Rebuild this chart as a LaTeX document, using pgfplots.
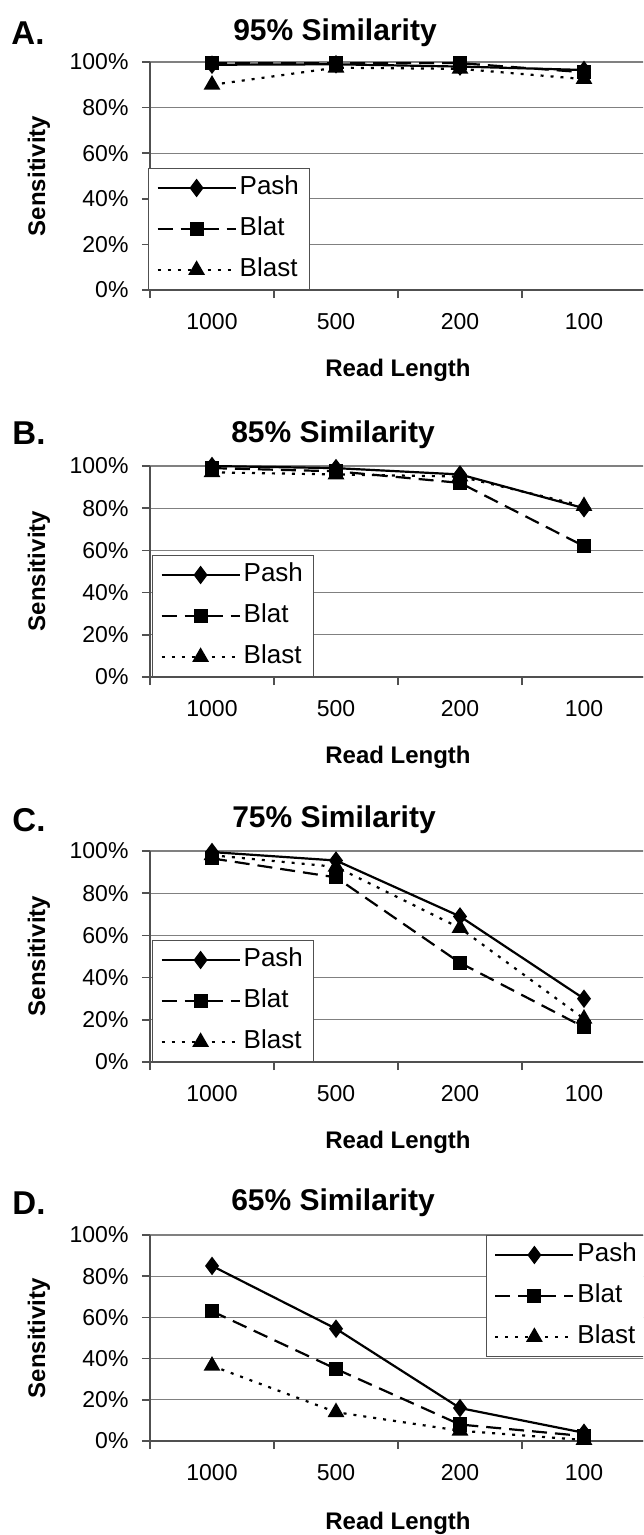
\documentclass[border=0pt]{standalone}
\usepackage{fontspec}
\setmainfont{Liberation Sans}
\usepackage{pgfplots}
\pgfplotsset{compat=1.18}

\definecolor{gridc}{HTML}{808080}
\definecolor{axisc}{HTML}{505050}

\pgfplotsset{
  panel/.style={
    scale only axis, width=496pt,
    xmin=-0.5, xmax=3.5, ymin=0, ymax=100,
    xtick={0,1,2,3}, xticklabels={1000,500,200,100},
    minor xtick={-0.5,0.5,1.5,2.5,3.5},
    ytick={0,20,40,60,80,100},
    yticklabels={0\%,20\%,40\%,60\%,80\%,100\%},
    axis x line*=bottom, axis y line*=left,
    tick align=outside,
    major tick length=8pt, minor tick length=8pt,
    major x tick style={draw=none},
    tick style={axisc, line width=1.5pt},
    axis line style={axisc, line width=1.5pt},
    ymajorgrids, grid style={gridc, line width=1.2pt},
    ticklabel style={font=\fontsize{23}{27}\selectfont},
    xticklabel style={yshift=-12pt},
    yticklabel style={xshift=-10pt},
    clip=false,
    legend cell align=left,
    legend style={draw=axisc, line width=1pt, fill=white,
      font=\fontsize{26}{30}\selectfont, inner sep=8pt, row sep=18pt,
      nodes={inner xsep=3pt, inner ysep=0pt, text height=18pt, text depth=5pt}},
    legend image code/.code={
      \draw[mark repeat=2,mark phase=2,#1] plot coordinates {(0pt,0pt) (39pt,0pt) (78pt,0pt)};},
  },
  pash/.style={black, line width=2.2pt, solid, mark=diamond*, mark size=7.5pt, mark options={solid}},
  blat/.style={black, line width=2.2pt, dash pattern=on 15pt off 8pt, mark=square*, mark size=6pt, mark options={solid}},
  blast/.style={black, line width=2.2pt, dash pattern=on 3pt off 7pt, mark=triangle*, mark size=7.5pt, mark options={solid}},
}

\newcommand\ptitle{\fontsize{30}{34}\selectfont\bfseries}
\newcommand\plabel{\fontsize{33}{37}\selectfont\bfseries}
\newcommand\alabel{\fontsize{24}{28}\selectfont\bfseries}

\begin{document}
\begin{tikzpicture}
\path[use as bounding box, clip] (0pt,0pt) rectangle (643pt,-1535pt);

% A. 95% similarity
\begin{axis}[panel, height=228pt, at={(150pt,-290pt)}, anchor=south west,
  legend style={at={(rel axis cs:0,0)}, anchor=south west, xshift=-2pt}]
\addplot[pash]  coordinates {(0,98.8) (1,99) (2,98) (3,96.5)};
\addplot[blat]  coordinates {(0,99.5) (1,99.5) (2,99.5) (3,95.5)};
\addplot[blast] coordinates {(0,90) (1,97.5) (2,97) (3,92.5)};
\legend{Pash,Blat,Blast}
\end{axis}
\node[font=\plabel] at (28pt,-33pt) {A.};
\node[font=\ptitle] at (335pt,-33pt) {95\% Similarity};
\node[font=\alabel, rotate=90] at (39pt,-176pt) {Sensitivity};
\node[font=\alabel] at (398pt,-370pt) {Read Length};

% B. 85% similarity
\begin{axis}[panel, height=211pt, at={(150pt,-677pt)}, anchor=south west,
  legend style={at={(rel axis cs:0,0)}, anchor=south west, xshift=2pt}]
\addplot[pash]  coordinates {(0,100) (1,99) (2,96) (3,80)};
\addplot[blat]  coordinates {(0,99) (1,97.5) (2,92) (3,62)};
\addplot[blast] coordinates {(0,97) (1,96) (2,95) (3,81)};
\legend{Pash,Blat,Blast}
\end{axis}
\node[font=\plabel] at (29pt,-433pt) {B.};
\node[font=\ptitle] at (333pt,-435pt) {85\% Similarity};
\node[font=\alabel, rotate=90] at (39pt,-571pt) {Sensitivity};
\node[font=\alabel] at (398pt,-757pt) {Read Length};

% C. 75% similarity
\begin{axis}[panel, height=211pt, at={(150pt,-1062pt)}, anchor=south west,
  legend style={at={(rel axis cs:0,0)}, anchor=south west, xshift=2pt}]
\addplot[pash]  coordinates {(0,99.5) (1,95.5) (2,69) (3,30)};
\addplot[blat]  coordinates {(0,96.5) (1,87.5) (2,47) (3,16.5)};
\addplot[blast] coordinates {(0,98) (1,92.5) (2,63.5) (3,20.5)};
\legend{Pash,Blat,Blast}
\end{axis}
\node[font=\plabel] at (29pt,-820pt) {C.};
\node[font=\ptitle] at (334pt,-820pt) {75\% Similarity};
\node[font=\alabel, rotate=90] at (39pt,-956pt) {Sensitivity};
\node[font=\alabel] at (398pt,-1142pt) {Read Length};

% D. 65% similarity
\begin{axis}[panel, height=206pt, at={(150pt,-1441pt)}, anchor=south west,
  legend style={at={(rel axis cs:0.677,1)}, anchor=north west}]
\addplot[pash]  coordinates {(0,85) (1,54.5) (2,16) (3,4)};
\addplot[blat]  coordinates {(0,63) (1,35) (2,8) (3,2.4)};
\addplot[blast] coordinates {(0,36.5) (1,14) (2,5) (3,0.5)};
\legend{Pash,Blat,Blast}
\end{axis}
\node[font=\plabel] at (29pt,-1203pt) {D.};
\node[font=\ptitle] at (333pt,-1203pt) {65\% Similarity};
\node[font=\alabel, rotate=90] at (39pt,-1338pt) {Sensitivity};
\node[font=\alabel] at (398pt,-1523pt) {Read Length};
\end{tikzpicture}
\end{document}
